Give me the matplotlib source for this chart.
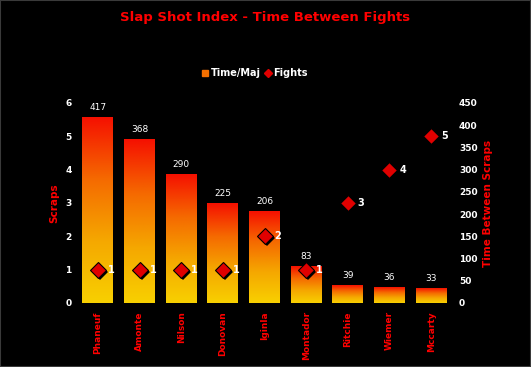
import numpy as np
import matplotlib
matplotlib.use("Agg")
import matplotlib.pyplot as plt
from matplotlib.colors import LinearSegmentedColormap
from matplotlib.patches import Rectangle
from matplotlib.lines import Line2D

# data
players = ["Phaneuf", "Amonte", "Nilson", "Donovan", "Iginla",
           "Montador", "Ritchie", "Wiemer", "Mccarty"]
time_per_maj = [417, 368, 290, 225, 206, 83, 39, 36, 33]
fights = [1, 1, 1, 1, 2, 1, 3, 4, 5]

RED = "#ff0000"
grad = LinearSegmentedColormap.from_list("g", ["#f8d000", "#f5a800", "#f56a00", "#f51000"])

fig = plt.figure(figsize=(5.31, 3.67), dpi=100, facecolor="black")
ax = fig.add_axes([77 / 531, 1 - 303 / 367, (452 - 77) / 531, 200 / 367])
ax.set_facecolor("black")
ax2 = ax.twinx()
for a in (ax, ax2):
    for s in a.spines.values():
        s.set_visible(False)

x = np.arange(len(players))
w = 0.74
ax.set_xlim(-0.5, len(players) - 0.5)
ax.set_ylim(0, 6)
ax2.set_ylim(0, 450)
ax2.set_zorder(0)
ax.set_zorder(1)
ax.patch.set_visible(False)

# gradient bars on the right (time) axis
g = np.linspace(0, 1, 256).reshape(-1, 1)
bars = ax2.bar(x, time_per_maj, width=w, color="none")
for b, v in zip(bars, time_per_maj):
    x0 = b.get_x()
    ax2.imshow(g, cmap=grad, origin="lower", aspect="auto",
               extent=(x0, x0 + w, 0, v), zorder=1)
    ax2.text(b.get_x() + w / 2, v + 12, str(v), ha="center", va="bottom",
             color="white", fontsize=6.5, family="DejaVu Sans")
ax2.set_xlim(-0.5, len(players) - 0.5)
ax2.set_ylim(0, 450)

# fights markers with a small shadow
ax.plot(x + 0.05, np.array(fights) - 0.06, "D", color="black", ms=8, mew=0, zorder=3)
ax.plot(x, fights, "D", color="#e00000", mec="black", mew=0.8, ms=8, zorder=4)
for xi, f in zip(x, fights):
    ax.text(xi + 0.24, f, str(f), color="white", fontsize=7, fontweight="bold",
            ha="left", va="center", zorder=5)

ax.set_yticks(range(0, 7))
ax2.set_yticks(range(0, 451, 50))
ax.tick_params(axis="y", colors="white", labelsize=6.5, length=0, pad=4)
ax2.tick_params(axis="y", colors="white", labelsize=6.5, length=0, pad=5)
for lab in ax.get_yticklabels() + ax2.get_yticklabels():
    lab.set_fontweight("bold")
ax.set_xticks(x)
ax.set_xticklabels(players, rotation=90, color=RED, fontsize=6.5, fontweight="bold")
ax.tick_params(axis="x", length=0, pad=6)
ax2.tick_params(axis="x", length=0)

ax.set_ylabel("Scraps", color=RED, fontsize=7.5, fontweight="bold", labelpad=4)
ax2.set_ylabel("Time Between Scraps", color=RED, fontsize=7.5, fontweight="bold", labelpad=4)

fig.text(0.5, 1 - 17 / 367, "Slap Shot Index - Time Between Fights", color=RED,
         fontsize=9.5, fontweight="bold", ha="center", va="center")

handles = [Line2D([], [], marker="s", ls="none", color="#f57000", ms=4),
           Line2D([], [], marker="D", ls="none", color="#e00000", ms=4)]
leg = fig.legend(handles, ["Time/Maj", "Fights"], loc="center", ncol=2,
                 bbox_to_anchor=(255 / 531, 1 - 73 / 367), frameon=False,
                 handlelength=0.6, handletextpad=0.3, columnspacing=0.4,
                 prop={"size": 7, "weight": "bold"})
for t in leg.get_texts():
    t.set_color("white")

fig.patches.append(Rectangle((0, 0), 1, 1, transform=fig.transFigure,
                             fill=False, edgecolor="#3a3a3a", lw=1.5))

fig.savefig("out.png", dpi=100, facecolor="black")
